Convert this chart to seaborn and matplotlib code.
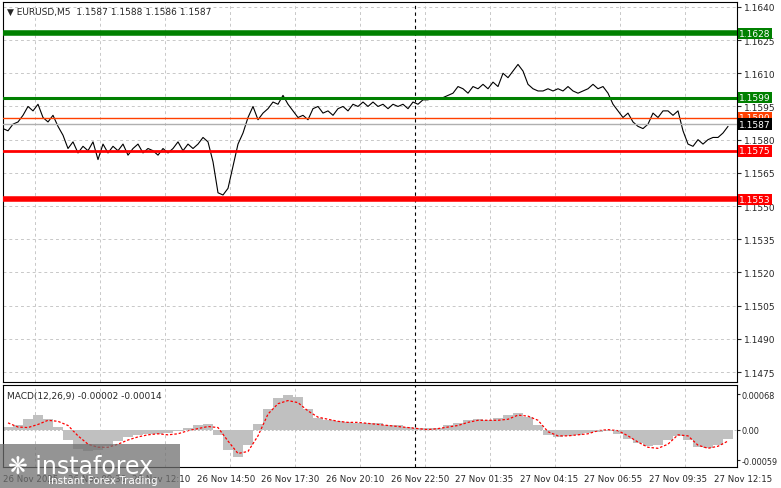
import matplotlib
matplotlib.use('Agg')
import matplotlib.pyplot as plt
import seaborn as sns
import numpy as np
import pandas as pd

sns.set_style('white')
plt.rcParams['font.family'] = ['DejaVu Sans']

# close prices, one every 5 px of the chart
price = [1.1585, 1.1584, 1.1587, 1.1588, 1.1591, 1.1595, 1.1593, 1.1596, 1.1590, 1.1588,
         1.1591, 1.1586, 1.1582, 1.1576, 1.1579, 1.1574, 1.1577, 1.1575, 1.1579, 1.1571,
         1.1578, 1.1574, 1.1577, 1.1575, 1.1578, 1.1573, 1.1576, 1.1578, 1.1574, 1.1576,
         1.1575, 1.1573, 1.1576, 1.1574, 1.1576, 1.1579, 1.1575, 1.1578, 1.1576, 1.1578,
         1.1581, 1.1579, 1.1570, 1.1556, 1.1555, 1.1558, 1.1568, 1.1578, 1.1583, 1.1590,
         1.1595, 1.1589, 1.1592, 1.1594, 1.1597, 1.1596, 1.1600, 1.1596, 1.1593, 1.1590,
         1.1591, 1.1589, 1.1594, 1.1595, 1.1592, 1.1593, 1.1591, 1.1594, 1.1595, 1.1593,
         1.1596, 1.1595, 1.1597, 1.1595, 1.1597, 1.1595, 1.1596, 1.1594, 1.1596, 1.1595,
         1.1596, 1.1594, 1.1597, 1.1596, 1.1598, 1.1598, 1.1599, 1.1599, 1.1599, 1.1600,
         1.1601, 1.1604, 1.1603, 1.1601, 1.1604, 1.1603, 1.1605, 1.1603, 1.1606, 1.1604,
         1.1610, 1.1608, 1.1611, 1.1614, 1.1611, 1.1605, 1.1603, 1.1602, 1.1602, 1.1603,
         1.1602, 1.1603, 1.1602, 1.1604, 1.1602, 1.1601, 1.1602, 1.1603, 1.1605, 1.1603,
         1.1604, 1.1601, 1.1596, 1.1593, 1.1590, 1.1592, 1.1588, 1.1586, 1.1585, 1.1587,
         1.1592, 1.1590, 1.1593, 1.1593, 1.1591, 1.1593, 1.1584, 1.1578, 1.1577, 1.1580,
         1.1578, 1.1580, 1.1581, 1.1581, 1.1583, 1.1586]

# MACD histogram and signal, in units of 1e-5, one every 10 px
macd_hist = [5, 8, 20, 28, 20, 5, -20, -38, -42, -40, -32, -22, -14, -10, -8, -8, -6, -2, 3, 8,
             10, -10, -40, -52, -30, 10, 40, 60, 66, 62, 40, 22, 18, 16, 14, 12, 13, 12, 9, 8,
             6, 4, 3, 4, 8, 12, 18, 20, 18, 22, 28, 32, 25, 8, -10, -14, -12, -10, -6, -4,
             -2, -8, -18, -26, -32, -30, -20, -12, -20, -34, -36, -30, -18]
macd_signal = [13, 5, 4, 10, 18, 16, 8, -12, -28, -34, -34, -28, -20, -14, -10, -8, -10, -8, -2, 2,
               6, 4, -22, -46, -42, -12, 30, 50, 56, 52, 36, 24, 20, 16, 14, 14, 12, 10, 8, 6,
               4, 2, 0, 2, 5, 8, 14, 18, 18, 18, 20, 28, 26, 18, -4, -12, -12, -10, -8, -2,
               0, -2, -12, -24, -34, -36, -28, -10, -12, -30, -36, -32, -22]

price_ticks = [1.1640, 1.1625, 1.1610, 1.1595, 1.1580, 1.1565, 1.1550, 1.1535,
               1.1520, 1.1505, 1.1490, 1.1475]
time_labels = ['26 Nov 2025', '26 Nov 09:30', '26 Nov 12:10', '26 Nov 14:50', '26 Nov 17:30',
               '26 Nov 20:10', '26 Nov 22:50', '27 Nov 01:35', '27 Nov 04:15', '27 Nov 06:55',
               '27 Nov 09:35', '27 Nov 12:15']
levels = [(1.1628, '#008000', 4.0), (1.1599, '#008000', 2.2), (1.1590, '#ff4000', 1.0),
          (1.1587, '#b0b0b0', 1.0), (1.1575, '#ff0000', 2.0), (1.1553, '#ff0000', 4.0)]
label_bg = {1.1628: '#008000', 1.1599: '#008000', 1.1590: '#ff4000', 1.1587: '#000000',
            1.1575: '#ff0000', 1.1553: '#ff0000'}

W, H = 781, 489
fig = plt.figure(figsize=(W / 100, H / 100), dpi=100)
ax = fig.add_axes([3 / W, 1 - 383 / H, 734 / W, 380 / H])
ax2 = fig.add_axes([3 / W, 1 - 468 / H, 734 / W, 82 / H])

xmax = 734 / 5
df = pd.DataFrame({'x': np.arange(len(price)), 'price': price})
sns.lineplot(data=df, x='x', y='price', ax=ax, color='black', lw=0.8)
ax.set_xlim(0, xmax)
ax.set_ylim(1.14705, 1.16422)

for v, c, lw in levels:
    ax.axhline(v, color=c, lw=lw, zorder=3)
    ax.text(1.003, v, f'{v:.4f}', transform=ax.get_yaxis_transform(), fontsize=6.5,
            color='white', va='center', ha='left',
            bbox=dict(boxstyle='square,pad=0.15', fc=label_bg[v], ec='none'))

grid_x = [(35 + 65 * k - 3) / 5 for k in range(11)]
for gx in grid_x:
    ax.axvline(gx, color='#c8c8c8', ls=(0, (3, 3)), lw=0.7, zorder=0)
    ax2.axvline(gx, color='#c8c8c8', ls=(0, (3, 3)), lw=0.7, zorder=0)
for t in price_ticks:
    ax.axhline(t, color='#c8c8c8', ls=(0, (3, 3)), lw=0.7, zorder=0)

vline = (415 - 3) / 5
ax.axvline(vline, color='black', ls=(0, (3, 3)), lw=0.8)
ax2.axvline(vline, color='black', ls=(0, (3, 3)), lw=0.8)

ax.yaxis.tick_right()
ax.set_yticks(price_ticks)
ax.set_yticklabels([f'{t:.4f}' for t in price_ticks], fontsize=6.5)
ax.tick_params(axis='y', length=3, pad=2)
ax.set_xticks([])
ax.set_xlabel('')
ax.set_ylabel('')
ax.text(0.005, 0.988, '▼ EURUSD,M5  1.1587 1.1588 1.1586 1.1587', transform=ax.transAxes,
        fontsize=6.5, va='top')

# MACD panel
mx = np.arange(len(macd_hist)) * 2
hist = np.array(macd_hist) * 1e-5
ax2.bar(mx, hist, width=2, color='#c0c0c0', align='edge', lw=0)
sdf = pd.DataFrame({'x': mx + 1, 'sig': np.array(macd_signal) * 1e-5})
sns.lineplot(data=sdf, x='x', y='sig', ax=ax2, color='red', lw=0.9, ls=(0, (2, 1.5)))
ax2.axhline(0, color='#c0c0c0', ls=(0, (2, 2)), lw=0.7)
ax2.set_xlim(0, xmax)
ax2.set_ylim(-0.00072, 0.00086)
ax2.yaxis.tick_right()
ax2.set_yticks([0.00068, 0.0, -0.00059])
ax2.set_yticklabels(['0.00068', '0.00', '-0.00059'], fontsize=5.9)
ax2.tick_params(axis='y', length=2, pad=1)
ax2.set_xlabel('')
ax2.set_ylabel('')
ax2.set_xticks([(3 + 64.6 * k - 3) / 5 for k in range(len(time_labels))])
ax2.set_xticklabels(time_labels, fontsize=6.2, ha='left')
ax2.tick_params(axis='x', length=3, pad=2)
ax2.text(0.005, 0.93, 'MACD(12,26,9) -0.00002 -0.00014', transform=ax2.transAxes,
         fontsize=6.5, va='top')

for a in (ax, ax2):
    for s in a.spines.values():
        s.set_color('black')
        s.set_linewidth(0.8)

# watermark
fig.patches.append(plt.Rectangle((0, 0), 180 / W, 44 / H, transform=fig.transFigure,
                                 fc='#707070', alpha=0.75, ec='none', zorder=5))
fig.text(8 / W, 22 / H, '❋ instaforex', color='white', fontsize=17, va='center', zorder=6)
fig.text(48 / W, 8 / H, 'Instant Forex Trading', color='white', fontsize=7.5, va='center',
         zorder=6)

fig.savefig('out.png', dpi=100)
